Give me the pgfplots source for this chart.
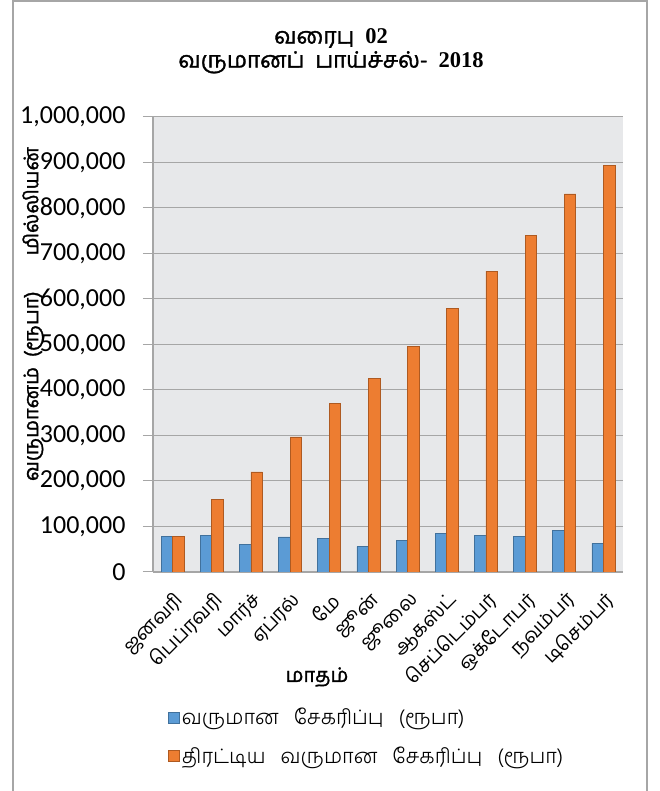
\documentclass[border=0pt]{standalone}
\usepackage{fontspec}
\usepackage{pgfplots}
\pgfplotsset{compat=1.18}
\setmainfont{Carlito}
\newfontfamily\tamil[Script=Tamil]{Hind Madurai}
\newfontfamily\tamillight[Script=Tamil]{Hind Madurai Light}
\newfontfamily\tamilbold[Script=Tamil, FakeBold=1.5]{Hind Madurai}
\newfontfamily\tserif{Liberation Serif}

\definecolor{barblue}{HTML}{5B9BD5}
\definecolor{barblueedge}{HTML}{41719C}
\definecolor{barorange}{HTML}{ED7D31}
\definecolor{barorangeedge}{HTML}{AE5A21}
\definecolor{plotbg}{HTML}{E7E8EA}
\definecolor{gridgray}{HTML}{A6A6A6}

\pgfplotsset{
  bluekey/.style={legend image code/.code={\draw[draw=barblueedge, fill=barblue, line width=0.6pt] (0pt,-5.5pt) rectangle (11pt,5.5pt);}},
  orangekey/.style={legend image code/.code={\draw[draw=barorangeedge, fill=barorange, line width=0.6pt] (0pt,-5.5pt) rectangle (11pt,5.5pt);}},
}

\begin{document}
\begin{tikzpicture}[x=1pt,y=1pt]
\useasboundingbox (0,0) rectangle (660,791);
\fill[white] (0,0) rectangle (660,791);
\draw[gridgray, line width=1.5pt] (13,-5) -- (13,790) -- (647,790) -- (647,-5);

\node[align=center, font=\tamilbold\fontsize{22.5}{24}\selectfont] at (331,740)
  {வரைபு\ \ {\tserif\bfseries 02}\\வருமானப்\ \ பாய்ச்சல்-\ \ {\tserif\bfseries 2018}};

% axis titles
\node[font=\tamilbold\fontsize{20}{22}\selectfont, rotate=90] at (33,477)
  {வருமானம்\ \ (ரூபா)\hspace{36pt}மில்லியன்};
\node[font=\tamilbold\fontsize{20}{22}\selectfont] at (317,114) {மாதம்};

\begin{axis}[
  at={(153pt,219pt)}, anchor=south west,
  scale only axis, width=470pt, height=455pt,
  ybar=0pt, bar width=11.5pt,
  xmin=-0.5, xmax=11.5, ymin=0, ymax=1000000,
  xtick=data,
  xticklabels={ஜனவரி,பெப்ரவரி,மார்ச்,ஏப்ரல்,மே,ஜூன்,ஜூலை,ஆகஸ்ட்,செப்டெம்பர்,ஒக்டோபர்,நவம்பர்,டிசெம்பர்},
  xticklabel style={rotate=45, anchor=east, font=\tamil\fontsize{19.5}{21}\selectfont, yshift=-16pt, xshift=-2pt},
  xtick style={draw=none},
  ytick distance=100000,
  scaled y ticks=false,
  yticklabel style={/pgf/number format/fixed, /pgf/number format/1000 sep={,},
    /pgf/number format/assume math mode=true},
  yticklabel style={font=\fontsize{26}{28}\selectfont, xshift=-14pt},
  tick align=outside, major tick length=10pt,
  ytick style={gridgray, line width=1pt},
  axis x line*=bottom, axis y line*=left,
  axis line style={gridgray, line width=1.2pt, -},
  ymajorgrids, major grid style={gridgray, line width=1pt},
  axis background/.style={fill=plotbg},
  legend style={at={(axis description cs:0.032,-0.295)}, anchor=north west,
    draw=none, fill=none, font=\tamillight\fontsize{20.5}{22}\selectfont,
    row sep=16pt, legend cell align=left, inner sep=0pt},
]
\addplot[fill=barblue, draw=barblueedge, line width=0.6pt, bluekey]
  coordinates {(0,79000) (1,80000) (2,61000) (3,77000) (4,73000) (5,56000)
               (6,70000) (7,84000) (8,81000) (9,78000) (10,92000) (11,63000)};
\addlegendentry{வருமான\ \ \ சேகரிப்பு\ \ \ (ரூபா)}
\addplot[fill=barorange, draw=barorangeedge, line width=0.6pt, orangekey]
  coordinates {(0,79000) (1,159000) (2,220000) (3,297000) (4,370000) (5,426000)
               (6,496000) (7,580000) (8,661000) (9,739000) (10,831000) (11,894000)};
\addlegendentry{திரட்டிய\ \ \ வருமான\ \ \ சேகரிப்பு\ \ \ (ரூபா)}
\end{axis}
\end{tikzpicture}
\end{document}
